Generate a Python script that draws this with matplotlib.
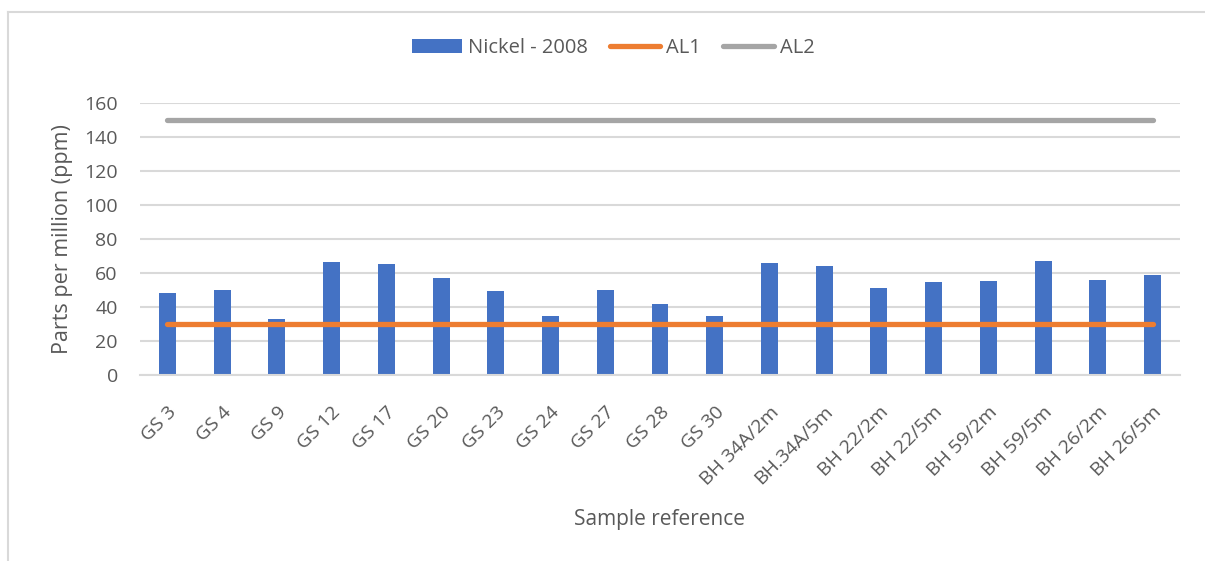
import numpy as np
import matplotlib.pyplot as plt
from matplotlib.lines import Line2D

# Données
samples = ["GS 3", "GS 4", "GS 9", "GS 12", "GS 17", "GS 20", "GS 23", "GS 24",
           "GS 27", "GS 28", "GS 30", "BH 34A/2m", "BH.34A/5m", "BH 22/2m",
           "BH 22/5m", "BH 59/2m", "BH 59/5m", "BH 26/2m", "BH 26/5m"]
nickel_2008 = [48.4, 50, 33.1, 66.3, 65.1, 57.2, 49.2, 34.5, 49.8, 41.6, 34.5,
               65.7, 64.1, 51.4, 54.5, 55.1, 67.1, 55.9, 58.8]
al1 = [30] * len(samples)
al2 = [150] * len(samples)

plt.rcParams['font.family'] = ['Open Sans', 'DejaVu Sans']
txt = '#595959'
grid = '#D9D9D9'

fig = plt.figure(figsize=(12.05, 5.61), dpi=100)
ax = fig.add_axes([140 / 1205, 1 - 375 / 561, 1040 / 1205, 272 / 561])

x = np.arange(len(samples))
bars = ax.bar(x, nickel_2008, width=0.31, color='#4472C4', zorder=2, label='Nickel - 2008')
l1, = ax.plot(x, al1, color='#ED7D31', lw=3.8, solid_capstyle='round', zorder=3, label='AL1')
l2, = ax.plot(x, al2, color='#A5A5A5', lw=3.8, solid_capstyle='round', zorder=3, label='AL2')

ax.set_xlim(-0.5, len(samples) - 0.5)
ax.set_ylim(0, 160)
ax.set_yticks(range(0, 161, 20))
ax.yaxis.grid(True, color=grid, lw=1.5, zorder=0)
ax.set_axisbelow(True)
for s in ['top', 'right', 'left']:
    ax.spines[s].set_visible(False)
ax.spines['bottom'].set_color(grid)
ax.spines['bottom'].set_linewidth(1.5)
ax.tick_params(length=0, colors=txt, labelsize=14)
ax.tick_params(axis='y', pad=16)
ax.set_xticks(x)
ax.set_xticklabels(samples, rotation=45, ha='right', va='top', rotation_mode='anchor')
ax.tick_params(axis='x', pad=20)

ax.set_ylabel('Parts per million (ppm)', color=txt, fontsize=15.5, labelpad=8)
fig.text(659 / 1205, 1 - 520 / 561, 'Sample reference', color=txt, fontsize=15,
         ha='center', va='center')

leg = fig.legend([bars, l1, l2], ['Nickel - 2008', 'AL1', 'AL2'], loc='center',
                 bbox_to_anchor=(613 / 1205, 1 - 48 / 561), ncol=3,
                 frameon=False, fontsize=14.5, handlelength=2.5, columnspacing=1.1,
                 handletextpad=0.3)
for t in leg.get_texts():
    t.set_color(txt)

# bordure du graphique
fig.add_artist(Line2D([8 / 1205, 1], [1 - 12 / 561] * 2, color='#D9D9D9', lw=1.5))
fig.add_artist(Line2D([8 / 1205] * 2, [0, 1 - 12 / 561], color='#D9D9D9', lw=1.5))

fig.savefig('out.png', dpi=100)
